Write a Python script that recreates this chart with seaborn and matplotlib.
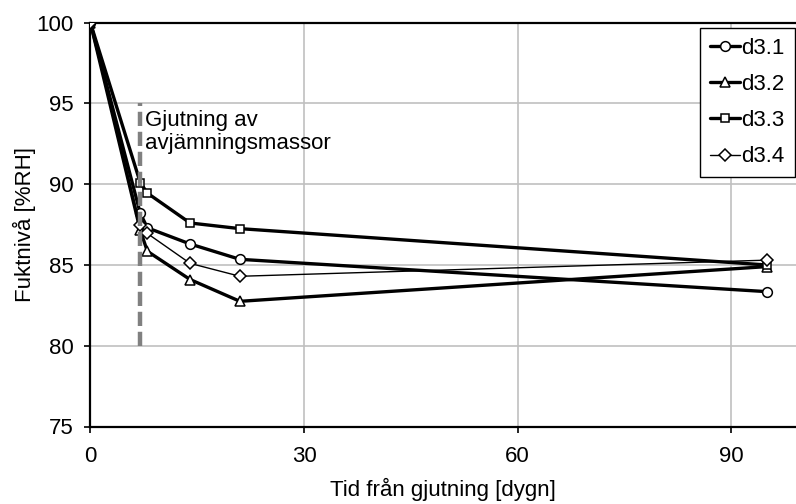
import matplotlib
matplotlib.use("Agg")
import matplotlib.pyplot as plt
import seaborn as sns
import pandas as pd

# ---------------------------------------------------------
# DATA
# ---------------------------------------------------------
days = [0, 7, 8, 14, 21, 95]
d31 = [100, 88.2, 87.3, 86.3, 85.35, 83.35]
d32 = [100, 87.15, 85.85, 84.1, 82.75, 84.9]
d33 = [100, 90.1, 89.45, 87.6, 87.25, 85.0]
d34 = [100, 87.5, 86.95, 85.1, 84.3, 85.3]

series_names = ["d3.1", "d3.2", "d3.3", "d3.4"]
series_values = [d31, d32, d33, d34]
series_markers = ["o", "^", "s", "D"]
series_widths = [2.4, 2.4, 2.4, 1.0]
series_msizes = [7, 7.5, 6, 6]

casting_day = 7
casting_span = [80, 95]
casting_label = "Gjutning av\navjämningsmassor"

x_ticks = [0, 30, 60, 90]
y_ticks = [75, 80, 85, 90, 95, 100]

# ---------------------------------------------------------
# STYLE
# ---------------------------------------------------------
sns.set_style("white")
plt.rcParams["font.family"] = ["Liberation Sans", "DejaVu Sans"]
plt.rcParams["font.size"] = 16
plt.rcParams["text.color"] = "black"
plt.rcParams["axes.labelcolor"] = "black"
plt.rcParams["xtick.color"] = "black"
plt.rcParams["ytick.color"] = "black"

fig = plt.figure(figsize=(7.96, 5.04), dpi=100)
ax = fig.add_axes([90.4 / 796, 1 - 426.5 / 504, 1 - 90.4 / 796, (426.5 - 22.7) / 504])

for name, vals, mk, lw, ms in zip(series_names, series_values, series_markers,
                                  series_widths, series_msizes):
    df = pd.DataFrame({"dag": days, "rh": vals})
    sns.lineplot(data=df, x="dag", y="rh", ax=ax, color="black", linewidth=lw,
                 marker=mk, markersize=ms, markerfacecolor="white",
                 markeredgecolor="black", markeredgewidth=1.1, label=name,
                 zorder=3)

# casting of levelling compound
ax.plot([casting_day, casting_day], casting_span, color="#808080", lw=3.2,
        dashes=(3.2, 1.3), zorder=4, solid_capstyle="butt")
ax.text(casting_day + 0.7, 94.6, casting_label, ha="left", va="top",
        fontsize=16, linespacing=1.15, zorder=5)

ax.set_xlim(0, 99.1)
ax.set_ylim(75, 100)
ax.set_xticks(x_ticks)
ax.set_yticks(y_ticks)
ax.set_xlabel("Tid från gjutning [dygn]", labelpad=8)
ax.set_ylabel("Fuktnivå [%RH]", labelpad=0)

ax.grid(True, color="#c0c0c0", linewidth=1.2)
ax.set_axisbelow(True)
for side in ["left", "bottom", "top"]:
    ax.spines[side].set_color("black")
    ax.spines[side].set_linewidth(1.6)
ax.spines["right"].set_visible(False)
ax.tick_params(axis="both", direction="out", length=4, width=1.2, color="black",
               labelsize=16, left=True, bottom=True)
ax.tick_params(axis="x", pad=10)
ax.tick_params(axis="y", pad=8)

leg = ax.legend(loc="upper right", bbox_to_anchor=(795 / 796, 1 - 28 / 504),
                bbox_transform=fig.transFigure, frameon=True, fancybox=False,
                edgecolor="black", framealpha=1, handlelength=1.35,
                handletextpad=0.08, labelspacing=0.68, borderpad=0.45,
                borderaxespad=0, fontsize=16)
leg.get_frame().set_linewidth(1.0)

fig.savefig("out.png", dpi=100)
